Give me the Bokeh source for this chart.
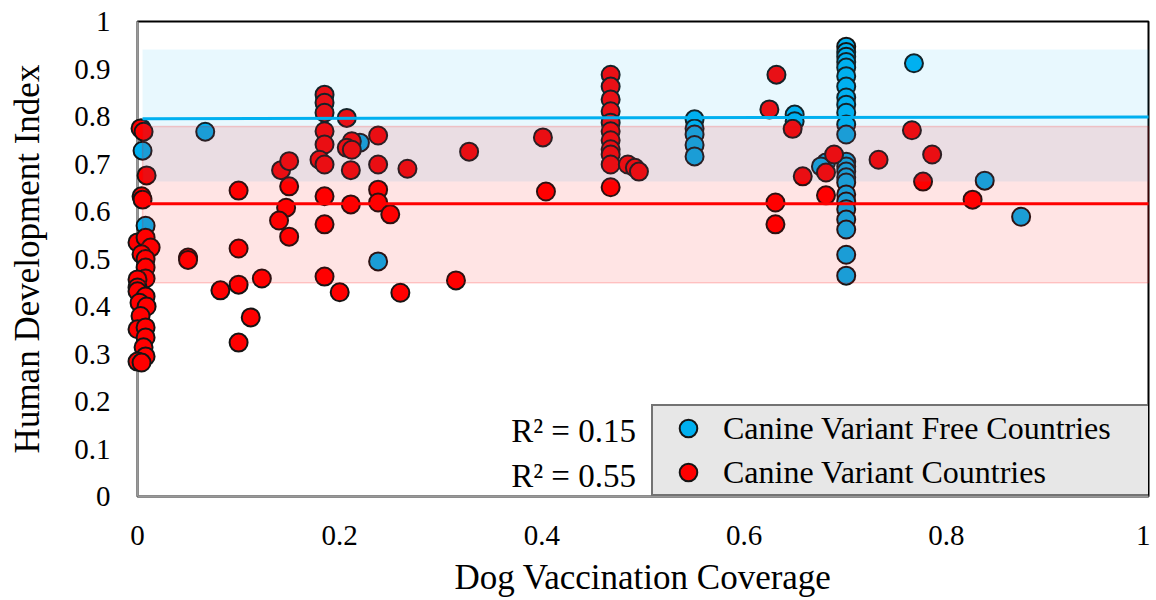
from bokeh.plotting import figure
from bokeh.models import Range1d, FixedTicker, Legend, LegendItem, Label
from bokeh.embed import file_html
from bokeh.resources import INLINE

# ---- data ----
free_x = [0.004, 0.005, 0.008,
          0.067, 0.220, 0.238,
          0.551, 0.551, 0.551, 0.551, 0.551,
          0.650, 0.650, 0.681, 0.676,
          0.701, 0.701, 0.701, 0.701, 0.701, 0.701, 0.701, 0.701, 0.701, 0.701,
          0.701, 0.701, 0.701, 0.701, 0.701, 0.701, 0.701, 0.701, 0.701, 0.701,
          0.701, 0.701, 0.701, 0.701,
          0.768, 0.838, 0.874]
free_y = [0.775, 0.728, 0.570,
          0.768, 0.745, 0.495,
          0.794, 0.775, 0.762, 0.740, 0.716,
          0.804, 0.790, 0.703, 0.695,
          0.947, 0.936, 0.926, 0.915, 0.903, 0.885, 0.863, 0.840, 0.825, 0.808,
          0.783, 0.762, 0.705, 0.695, 0.684, 0.672, 0.661, 0.636, 0.621, 0.605,
          0.583, 0.562, 0.509, 0.465,
          0.912, 0.665, 0.589]

var_x = [0.003, 0.006, 0.009, 0.004, 0.005, 0.000, 0.008, 0.013, 0.004, 0.008,
         0.008, 0.008, 0.000, 0.000, 0.000, 0.008, 0.002, 0.009, 0.003, 0.000,
         0.008, 0.008, 0.006, 0.008, 0.000, 0.004,
         0.050, 0.050, 0.100, 0.100, 0.100, 0.100, 0.082, 0.123, 0.112,
         0.142, 0.150, 0.150, 0.147, 0.140, 0.150,
         0.185, 0.185, 0.185, 0.185, 0.185, 0.180, 0.185, 0.185, 0.185, 0.185,
         0.207, 0.212, 0.207, 0.212, 0.211, 0.211, 0.200,
         0.238, 0.238, 0.238, 0.238, 0.250, 0.260, 0.267, 0.328, 0.315,
         0.401, 0.404,
         0.468, 0.468, 0.468, 0.468, 0.468, 0.468, 0.468, 0.468, 0.468, 0.468, 0.468,
         0.485, 0.492, 0.496,
         0.625, 0.632, 0.631, 0.631, 0.648, 0.658,
         0.681, 0.689, 0.681, 0.733, 0.766, 0.786, 0.777, 0.826]
var_y = [0.775, 0.768, 0.676, 0.632, 0.625, 0.535, 0.545, 0.524, 0.510, 0.500,
         0.482, 0.459, 0.457, 0.440, 0.432, 0.421, 0.408, 0.400, 0.380, 0.352,
         0.356, 0.335, 0.314, 0.295, 0.284, 0.282,
         0.503, 0.498, 0.644, 0.522, 0.446, 0.324, 0.434, 0.459, 0.377,
         0.687, 0.706, 0.653, 0.608, 0.581, 0.547,
         0.846, 0.829, 0.808, 0.769, 0.741, 0.709, 0.699, 0.632, 0.573, 0.463,
         0.797, 0.748, 0.734, 0.730, 0.687, 0.615, 0.430,
         0.760, 0.699, 0.646, 0.619, 0.594, 0.429, 0.690, 0.726, 0.455,
         0.756, 0.642,
         0.888, 0.863, 0.836, 0.811, 0.787, 0.769, 0.750, 0.731, 0.720, 0.699, 0.651,
         0.699, 0.692, 0.684,
         0.815, 0.888, 0.619, 0.573, 0.774, 0.674,
         0.682, 0.720, 0.634, 0.709, 0.771, 0.720, 0.663, 0.625]

trend_x = [0.005, 1.0]
free_trend_y = [0.7955, 0.799]
var_trend_y = [0.6165, 0.6165]

band_x = [0.005, 1.0]
free_band = [0.663, 0.941]
var_band = [0.450, 0.779]

r2_labels = ["R\u00b2 = 0.15", "R\u00b2 = 0.55"]
series_names = ["Canine Variant Free Countries", "Canine Variant Countries"]

x_ticks = [0, 0.2, 0.4, 0.6, 0.8, 1]
x_tick_labels = ["0", "0.2", "0.4", "0.6", "0.8", "1"]
y_ticks = [0, 0.1, 0.2, 0.3, 0.4, 0.5, 0.6, 0.7, 0.8, 0.9, 1]
y_tick_labels = ["0", "0.1", "0.2", "0.3", "0.4", "0.5", "0.6", "0.7", "0.8", "0.9", "1"]

BLUE = "#00B0F0"
RED = "#FF0000"
FONT = "Liberation Serif"

p = figure(width=1150, height=599, output_backend="svg", toolbar_location=None,
           x_range=Range1d(0, 1), y_range=Range1d(0, 1),
           min_border_left=137, min_border_right=2, min_border_top=21,
           min_border_bottom=102)
p.grid.visible = False
p.outline_line_color = "black"
p.outline_line_width = 2
p.background_fill_color = "white"
p.border_fill_color = "white"

for ax in (p.xaxis[0], p.yaxis[0]):
    ax.axis_line_color = "#999999"
    ax.axis_line_width = 2
    ax.major_tick_line_color = None
    ax.minor_tick_line_color = None
    ax.major_tick_out = 0
    ax.major_tick_in = 0
    ax.major_label_text_font = FONT
    ax.major_label_text_font_size = "29px"
    ax.major_label_text_color = "black"
    ax.axis_label_text_font = FONT
    ax.axis_label_text_font_size = "35px"
    ax.axis_label_text_font_style = "normal"
    ax.axis_label_text_color = "black"

p.xaxis[0].ticker = FixedTicker(ticks=x_ticks)
p.xaxis[0].major_label_overrides = {t: s for t, s in zip(x_ticks, x_tick_labels)}
p.xaxis[0].axis_label = "Dog Vaccination Coverage"
p.xaxis[0].major_label_standoff = 29
p.xaxis[0].axis_label_standoff = 10

p.yaxis[0].ticker = FixedTicker(ticks=y_ticks)
p.yaxis[0].major_label_overrides = {t: s for t, s in zip(y_ticks, y_tick_labels)}
p.yaxis[0].axis_label = "Human Development Index"
p.yaxis[0].major_label_standoff = 27
p.yaxis[0].axis_label_standoff = 24

r_free = p.scatter(free_x, free_y, size=18, fill_color=BLUE, line_color="#151515",
                   line_width=2, level="overlay")
r_var = p.scatter(var_x, var_y, size=18, fill_color=RED, line_color="#151515",
                  line_width=2, level="overlay")

p.quad(left=[band_x[0]], right=[band_x[1]], bottom=[free_band[0]], top=[free_band[1]],
       fill_color=BLUE, fill_alpha=0.09, line_color=None, level="overlay")
p.quad(left=[band_x[0]], right=[band_x[1]], bottom=[var_band[0]], top=[var_band[1]],
       fill_color=RED, fill_alpha=0.105, line_color=RED, line_alpha=0.18,
       line_width=1.5, level="overlay")

p.line(trend_x, free_trend_y, line_color=BLUE, line_width=3, level="overlay")
p.line(trend_x, var_trend_y, line_color=RED, line_width=3, level="overlay")

for txt, yy in zip(r2_labels, [0.137, 0.044]):
    p.add_layout(Label(x=0.493, y=yy, text=txt, text_align="right",
                       text_baseline="middle", text_font=FONT,
                       text_font_size="33px", text_color="black"))

legend = Legend(items=[LegendItem(label=series_names[0], renderers=[r_free]),
                       LegendItem(label=series_names[1], renderers=[r_var])],
                location=(514, 0), padding=0, spacing=0,
                glyph_width=70, glyph_height=44, label_height=44,
                label_width=426, label_standoff=0,
                label_text_font=FONT, label_text_font_size="32px",
                label_text_color="black",
                background_fill_color="#E7E7E7", background_fill_alpha=1.0,
                border_line_color="black", border_line_width=2)
p.add_layout(legend)

open("out.html", "w").write(file_html(p, INLINE))
